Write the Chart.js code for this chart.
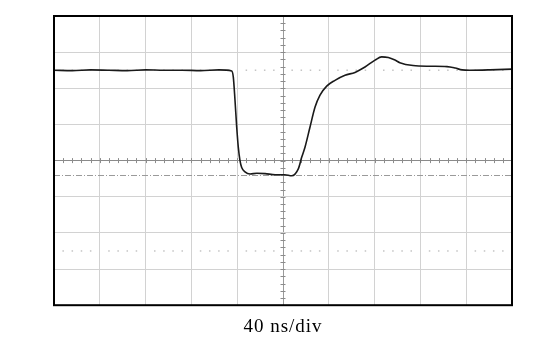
<!DOCTYPE html>
<html>
<head>
<meta charset="utf-8">
<script src="https://cdn.jsdelivr.net/npm/chart.js@4/dist/chart.umd.min.js"></script>
<style>
  html, body { margin: 0; padding: 0; background: #fff; }
  #scope { display: block; }
</style>
</head>
<body>
<canvas id="scope" width="548" height="341"></canvas>
<script>
// time in divisions (0..10), voltage in divisions (-4..4, 0 = centre line)
const timeDiv = [0, 0.4, 0.8, 1.2, 1.6, 2.0, 2.4, 2.8, 3.2, 3.6, 3.88,
  3.915, 3.952, 3.989, 4.024, 4.061, 4.098, 4.17, 4.28, 4.43, 4.61, 4.83, 5.04, 5.19,
  5.334, 5.408, 5.48, 5.59, 5.7, 5.808, 5.954, 6.135, 6.354, 6.572, 6.79,
  7.009, 7.155, 7.3, 7.445, 7.55, 7.84, 8.21, 8.58, 8.76, 8.91, 9.08, 9.52, 10];
const voltDiv = [2.5, 2.49, 2.51, 2.5, 2.49, 2.51, 2.5, 2.5, 2.49, 2.51, 2.48,
  2.31, 1.67, 0.93, 0.37, 0, -0.19, -0.31, -0.37, -0.35, -0.36, -0.39, -0.39, -0.42,
  -0.23, 0.09, 0.37, 0.93, 1.48, 1.81, 2.06, 2.22, 2.36, 2.44, 2.59,
  2.78, 2.87, 2.85, 2.78, 2.71, 2.63, 2.61, 2.6, 2.56, 2.51, 2.5, 2.51, 2.53];
const cursorDots = [2.5, -2.5];
const cursorDashDot = -0.4;
const timeBase = '40 ns/div';

const scopeDecor = {
  id: 'scopeDecor',
  beforeDraw(chart) {
    chart.ctx.letterSpacing = '1px';
  },
  beforeDatasetsDraw(chart) {
    const { ctx, chartArea: a, scales: { x, y } } = chart;
    ctx.save();
    // dotted cursor rows
    ctx.fillStyle = '#c4c4c4';
    cursorDots.forEach(v => {
      const py = y.getPixelForValue(v);
      for (let i = 1; i < 50; i++) {
        if (i % 5 === 0) continue;
        const px = x.getPixelForValue(i / 5);
        ctx.fillRect(px - 0.75, py - 0.75, 1.5, 1.5);
      }
    });
    // dash-dot cursor
    ctx.strokeStyle = '#9a9a9a';
    ctx.lineWidth = 1;
    ctx.setLineDash([6, 2, 1, 2]);
    const pd = Math.round(y.getPixelForValue(cursorDashDot)) + 0.5;
    ctx.beginPath();
    ctx.moveTo(a.left, pd);
    ctx.lineTo(a.right, pd);
    ctx.stroke();
    ctx.setLineDash([]);
    // minor ticks on centre lines
    ctx.strokeStyle = '#8c8c8c';
    const cy = y.getPixelForValue(0), cx = x.getPixelForValue(5);
    ctx.beginPath();
    for (let i = 1; i < 50; i++) {
      const px = Math.round(x.getPixelForValue(i / 5)) + 0.5;
      ctx.moveTo(px, cy - 2.5);
      ctx.lineTo(px, cy + 2.5);
    }
    for (let j = -19; j < 20; j++) {
      const py = Math.round(y.getPixelForValue(j / 5)) + 0.5;
      ctx.moveTo(cx - 2.5, py);
      ctx.lineTo(cx + 2.5, py);
    }
    ctx.stroke();
    ctx.restore();
  },
  afterDraw(chart) {
    const { ctx, chartArea: a } = chart;
    ctx.save();
    ctx.strokeStyle = '#000';
    ctx.lineWidth = 2;
    ctx.strokeRect(a.left, a.top, a.right - a.left, a.bottom - a.top);
    ctx.restore();
  }
};

new Chart(document.getElementById('scope'), {
  type: 'line',
  data: {
    datasets: [{
      data: timeDiv.map((t, i) => ({ x: t, y: voltDiv[i] })),
      borderColor: '#1a1a1a',
      borderWidth: 1.6,
      borderJoinStyle: 'round',
      borderCapStyle: 'round',
      pointRadius: 0,
      tension: 0.2,
      cubicInterpolationMode: 'monotone'
    }]
  },
  options: {
    responsive: false,
    animation: false,
    layout: { padding: { left: 54, right: 36, top: 16, bottom: 3 } },
    plugins: { legend: { display: false }, tooltip: { enabled: false } },
    scales: {
      x: {
        type: 'linear', min: 0, max: 10,
        ticks: { display: false, stepSize: 1 },
        border: { display: false },
        grid: {
          drawTicks: false,
          color: c => c.tick && c.tick.value === 5 ? '#9a9a9a' : '#d2d2d2',
          lineWidth: 1
        },
        title: {
          display: true, text: timeBase, color: '#000',
          font: { family: 'Liberation Serif', size: 19 },
          padding: { top: 10, bottom: 0 }
        }
      },
      y: {
        min: -4, max: 4,
        ticks: { display: false, stepSize: 1 },
        border: { display: false },
        grid: {
          drawTicks: false,
          color: c => c.tick && c.tick.value === 0 ? '#8a8a8a' : '#d2d2d2',
          lineWidth: 1
        }
      }
    }
  },
  plugins: [scopeDecor]
});
</script>
</body>
</html>
